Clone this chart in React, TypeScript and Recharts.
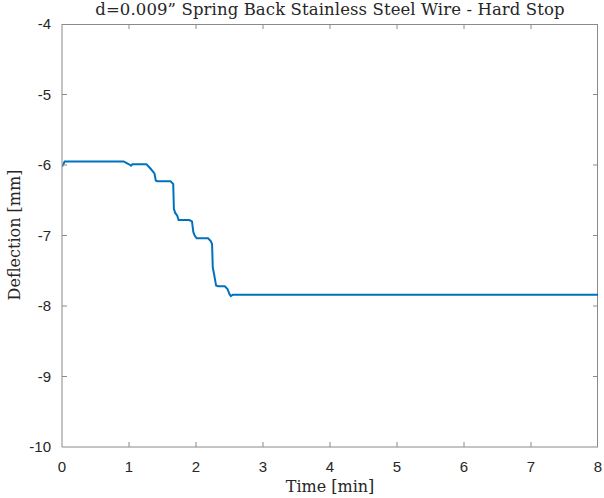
import React from 'react';
import { LineChart, Line, XAxis, YAxis } from 'recharts';

// time [min] and deflection [mm]
const timeMin = [
  0, 0.02, 0.04, 0.3, 0.6, 0.92, 0.96, 1.0, 1.03, 1.05, 1.1, 1.26, 1.32, 1.38, 1.4, 1.42,
  1.62, 1.64, 1.66, 1.67, 1.69, 1.72, 1.74, 1.9, 1.94, 1.96, 1.98, 2.01, 2.04, 2.18, 2.22,
  2.24, 2.25, 2.27, 2.3, 2.33, 2.43, 2.47, 2.5, 2.52, 2.55, 3, 4, 5, 6, 7, 8,
];
const deflectionMm = [
  -6.02, -5.99, -5.95, -5.95, -5.95, -5.95, -5.97, -5.99, -6.01, -5.99, -5.99, -5.99, -6.05,
  -6.12, -6.22, -6.23, -6.23, -6.25, -6.27, -6.62, -6.68, -6.72, -6.78, -6.78, -6.8, -6.95,
  -7.0, -7.04, -7.04, -7.04, -7.08, -7.12, -7.45, -7.55, -7.71, -7.72, -7.72, -7.76, -7.83,
  -7.86, -7.84, -7.84, -7.84, -7.84, -7.84, -7.84, -7.84,
];
const xTicks = [0, 1, 2, 3, 4, 5, 6, 7, 8];
const yTicks = [-10, -9, -8, -7, -6, -5, -4];

const data = timeMin.map((t, i) => ({ t, d: deflectionMm[i] }));

const AXIS = '#8a8a8a';
const TEXT = '#262626';
const sans = 'Liberation Sans, Arial, sans-serif';
const serif = '"DejaVu Serif", "Liberation Serif", serif';

// plot box, so the ticks can be mirrored on the top and right edges
const PLOT_W = 536;
const PLOT_H = 423;
const TICK_LEN = 5;
const X_MARGIN = 14;
const Y_MARGIN = 11;

// MATLAB style: ticks point inward, on both sides of the box
const XTick = ({ x, y, payload }: any) => {
  const axisY = y - X_MARGIN;
  const topY = axisY - PLOT_H;
  const inner = payload.value !== 0 && payload.value !== 8;
  return (
    <g>
      {inner && <line x1={x} x2={x} y1={axisY} y2={axisY - TICK_LEN} stroke={AXIS} />}
      {inner && <line x1={x} x2={x} y1={topY} y2={topY + TICK_LEN} stroke={AXIS} />}
      <text x={x} y={y} dy={11} textAnchor="middle" fill={TEXT} fontSize={15} fontFamily={sans}>
        {payload.value}
      </text>
    </g>
  );
};

const YTick = ({ x, y, payload }: any) => {
  const axisX = x + Y_MARGIN;
  const rightX = axisX + PLOT_W;
  const inner = payload.value !== -10 && payload.value !== -4;
  return (
    <g>
      {inner && <line x1={axisX} x2={axisX + TICK_LEN} y1={y} y2={y} stroke={AXIS} />}
      {inner && <line x1={rightX} x2={rightX - TICK_LEN} y1={y} y2={y} stroke={AXIS} />}
      <text x={x} y={y} dy={5} textAnchor="end" fill={TEXT} fontSize={15} fontFamily={sans}>
        {payload.value}
      </text>
    </g>
  );
};

export default function App() {
  return (
    <div style={{ position: 'absolute', left: 0, top: 0, width: 604, height: 498, background: '#fff' }}>
      <div
        style={{
          position: 'absolute', left: 62, width: 536, top: 0, textAlign: 'center', whiteSpace: 'nowrap',
          fontFamily: serif, fontSize: 16.5, letterSpacing: 0.1, color: TEXT,
        }}
      >
        d=0.009” Spring Back Stainless Steel Wire - Hard Stop
      </div>
      <div
        style={{
          position: 'absolute', left: 62, width: 536, top: 477, textAlign: 'center',
          fontFamily: serif, fontSize: 16, lineHeight: '19px', color: TEXT,
        }}
      >
        Time [min]
      </div>
      <div
        style={{
          position: 'absolute', left: 14, top: 235, transform: 'translate(-50%, -50%) rotate(-90deg)',
          whiteSpace: 'nowrap', fontFamily: serif, fontSize: 16, color: TEXT,
        }}
      >
        Deflection [mm]
      </div>
      <div
        style={{
          position: 'absolute', left: 62, top: 24, width: PLOT_W - 1, height: PLOT_H - 1,
          borderTop: `1px solid ${AXIS}`, borderRight: `1px solid ${AXIS}`, pointerEvents: 'none',
        }}
      />
      <LineChart
        width={604}
        height={498}
        data={data}
        margin={{ top: 24, right: 6, bottom: 21, left: 12 }}
      >
        <XAxis
          dataKey="t"
          type="number"
          domain={[0, 8]}
          ticks={xTicks}
          height={30}
          stroke={AXIS}
          tickLine={false}
          tickSize={0}
          tickMargin={X_MARGIN}
          tick={<XTick />}
          allowDataOverflow
        />
        <YAxis
          type="number"
          domain={[-10, -4]}
          ticks={yTicks}
          width={50}
          stroke={AXIS}
          tickLine={false}
          tickSize={0}
          tickMargin={Y_MARGIN}
          tick={<YTick />}
          allowDataOverflow
        />
        <Line
          type="linear"
          dataKey="d"
          stroke="#0072BD"
          strokeWidth={2}
          dot={false}
          isAnimationActive={false}
        />
      </LineChart>
    </div>
  );
}
